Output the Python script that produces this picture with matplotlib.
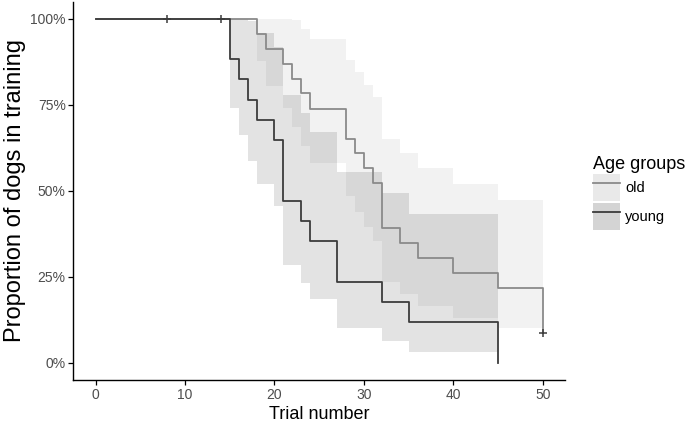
import matplotlib
matplotlib.use('Agg')

import matplotlib.pyplot as plt
from matplotlib.patches import Patch
from matplotlib.lines import Line2D
from matplotlib.legend_handler import HandlerTuple

plt.rcParams['font.family'] = ['Liberation Sans', 'DejaVu Sans']

# Kaplan-Meier steps (proportion still in training)
young_time = [0, 15, 16, 17, 18, 20, 21, 23, 24, 27, 32, 35, 45]
young_surv = [1.0, 0.882, 0.824, 0.765, 0.706, 0.647, 0.471, 0.412, 0.353, 0.235, 0.176, 0.118, 0.0]
young_upper = [1.0, 1.0, 1.0, 0.995, 0.959, 0.919, 0.779, 0.727, 0.672, 0.554, 0.493, 0.432, 0.432]
young_lower = [1.0, 0.742, 0.661, 0.587, 0.519, 0.456, 0.284, 0.233, 0.185, 0.100, 0.063, 0.032, 0.032]
young_censor_time = [8, 14]
young_censor_surv = [1.0, 1.0]

old_time = [0, 18, 19, 21, 22, 23, 24, 28, 29, 30, 31, 32, 34, 36, 40, 45, 50]
old_surv = [1.0, 0.957, 0.913, 0.870, 0.826, 0.783, 0.739, 0.652, 0.609, 0.565, 0.522,
            0.391, 0.348, 0.304, 0.261, 0.217, 0.087]
old_upper = [1.0, 1.0, 1.0, 1.0, 0.997, 0.971, 0.942, 0.879, 0.845, 0.809, 0.772,
             0.651, 0.609, 0.565, 0.519, 0.472, 0.472]
old_lower = [1.0, 0.877, 0.805, 0.742, 0.685, 0.631, 0.580, 0.484, 0.439, 0.395, 0.353,
             0.235, 0.199, 0.164, 0.131, 0.100, 0.100]
old_censor_time = [50]
old_censor_surv = [0.087]

y_ticks = [0, 0.25, 0.5, 0.75, 1.0]
y_labels = ['0%', '25%', '50%', '75%', '100%']
x_ticks = [0, 10, 20, 30, 40, 50]

old_line = '#8a8a8a'
young_line = '#3c3c3c'

fig = plt.figure(figsize=(6.85, 4.24), dpi=100)
ax = fig.add_axes([0.107, 0.104, 0.718, 0.892])

ax.fill_between(old_time, old_lower, old_upper, step='post',
                color='black', alpha=0.05, linewidth=0)
ax.fill_between(young_time, young_lower, young_upper, step='post',
                color='black', alpha=0.11, linewidth=0)

ax.step(old_time, old_surv, where='post', color=old_line, lw=1.3)
ax.step(young_time, young_surv, where='post', color=young_line, lw=1.3)
ax.plot(old_censor_time, old_censor_surv, '+', color=young_line, ms=6, mew=1.1)
ax.plot(young_censor_time, young_censor_surv, '+', color=young_line, ms=6, mew=1.1)

ax.set_xlim(-2.5, 52.5)
ax.set_ylim(-0.05, 1.05)
ax.set_xticks(x_ticks)
ax.set_yticks(y_ticks)
ax.set_yticklabels(y_labels)
ax.tick_params(labelsize=10, labelcolor='#4d4d4d', length=3.5, width=0.9, pad=2)
for side in ['top', 'right']:
    ax.spines[side].set_visible(False)
for side in ['left', 'bottom']:
    ax.spines[side].set_linewidth(1.0)

ax.set_xlabel('Trial number', fontsize=13, labelpad=3)
ax.set_ylabel('Proportion of dogs in training', fontsize=17, labelpad=3)

h_old = (Patch(facecolor='#e9e9e9', edgecolor='none'), Line2D([], [], color=old_line, lw=1.3))
h_young = (Patch(facecolor='#d4d4d4', edgecolor='none'), Line2D([], [], color=young_line, lw=1.3))
fig.legend([h_old, h_young], ['old', 'young'], title='Age groups',
           handler_map={tuple: HandlerTuple(ndivide=1, pad=0)},
           loc='upper left', bbox_to_anchor=(0.866, 0.632), frameon=False,
           fontsize=10.5, title_fontsize=13, alignment='left',
           handlelength=1.85, handleheight=2.5, labelspacing=0.08,
           handletextpad=0.35, borderpad=0, borderaxespad=0)

plt.savefig('out.png', dpi=100)
